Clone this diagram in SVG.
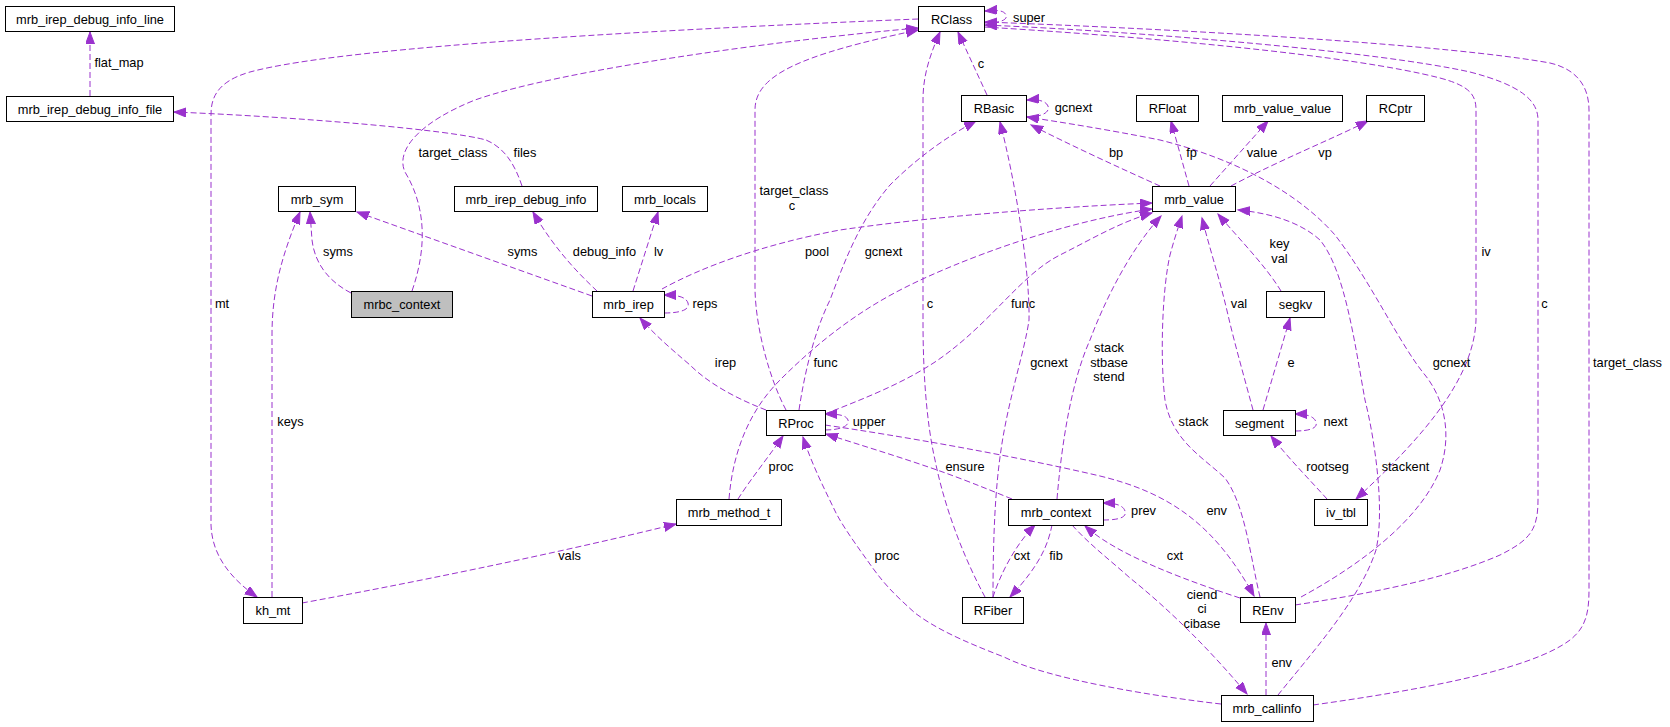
<svg xmlns="http://www.w3.org/2000/svg" width="1670" height="727" viewBox="0 0 1670 727">
<style>
.n rect{fill:#fff;stroke:#000;stroke-width:1}
.n text,.l text{font-family:"Liberation Sans",Arial,sans-serif;font-size:12.8px;fill:#000}
.n text{text-anchor:middle}
.l text{text-anchor:middle}
.e path{fill:none;stroke:#9a32cd;stroke-width:1;stroke-dasharray:6,3;marker-end:url(#ah)}
</style>
<defs>
<marker id="ah" markerUnits="userSpaceOnUse" markerWidth="14" markerHeight="11" refX="12" refY="4.5" orient="auto"><path d="M0,0 L12,4.5 L0,9 z" fill="#9a32cd" stroke="#9a32cd" stroke-width="1"/></marker>
</defs>
<rect width="1670" height="727" fill="#fff"/>
<g id="edges" class="e">
<path d="M90,96 L90,32"/>
<path d="M522,186 C515,165 505,148 486,140 C450,130 300,117 174,112"/>
<path d="M412,291 C428,245 425,205 405,172 C395,150 420,122 475,100 C560,70 780,40 918,28"/>
<path d="M918,19 C700,28 350,45 250,72 C215,82 211,100 211,115 L211,525 C212,555 230,578 257,597"/>
<path d="M351,293 C330,282 315,265 312,240 L310,212"/>
<path d="M272,597 L272,335 C272,290 282,255 300,212"/>
<path d="M592,296 L357,212"/>
<path d="M597,291 C580,275 555,250 533,212"/>
<path d="M633,291 L658,212"/>
<path d="M664,313 C680,313 690,310 688,303 C686,297 678,295 664,295"/>
<path d="M662,289 C700,268 760,245 840,230 C950,214 1080,206 1152,203"/>
<path d="M786,410 C770,380 756,330 755,290 L755,110 C755,75 800,55 918,30"/>
<path d="M799,410 C805,370 815,330 830,300 C845,260 860,220 890,185 C920,155 950,135 976,121"/>
<path d="M825,414 C860,400 900,385 935,362 C990,325 1020,275 1060,255 C1090,240 1120,222 1152,213"/>
<path d="M729,499 C733,450 750,410 780,380 C820,340 860,310 906,287 C960,260 1060,222 1152,209"/>
<path d="M825,430 C840,430 850,426 848,420 C846,415 838,414 825,414"/>
<path d="M825,425 C900,436 1010,455 1100,476 C1170,493 1215,525 1254,596"/>
<path d="M1012,499 C985,488 960,478 937,470 C900,457 860,445 826,434"/>
<path d="M738,499 C750,480 770,455 783,436"/>
<path d="M1103,520 C1120,520 1127,517 1125,511 C1123,505 1115,503 1103,503"/>
<path d="M1057,499 C1062,440 1072,380 1090,340 C1105,300 1130,250 1161,216"/>
<path d="M1260,597 C1250,555 1245,505 1225,478 C1200,455 1172,440 1165,400 C1160,360 1162,290 1170,255 C1174,240 1178,228 1182,216"/>
<path d="M1253,410 C1245,380 1235,345 1228,315 C1220,280 1210,250 1202,218"/>
<path d="M1263,410 L1290,318"/>
<path d="M1281,291 C1265,265 1240,240 1218,214"/>
<path d="M1295,431 C1310,431 1318,428 1316,422 C1314,416 1306,414 1295,414"/>
<path d="M1327,499 C1310,480 1290,460 1271,436"/>
<path d="M984,27 C1150,37 1350,55 1440,78 C1470,86 1476,95 1476,110 L1476,320 C1474,380 1420,440 1356,499"/>
<path d="M1295,605 C1380,592 1450,577 1500,555 C1530,540 1538,530 1538,500 L1538,120 C1538,100 1520,85 1470,72 C1380,52 1150,32 985,25"/>
<path d="M1313,705 C1420,690 1530,670 1570,640 C1585,628 1589,615 1589,590 L1589,110 C1589,90 1580,70 1550,63 C1450,45 1200,30 985,22"/>
<path d="M984,23 C1000,23 1008,20 1006,15 C1004,10 996,10 985,11"/>
<path d="M987,95 L958,32"/>
<path d="M985,597 C965,560 945,510 935,460 C926,420 923,370 923,320 L923,100 C923,75 930,55 940,32"/>
<path d="M993,597 C993,540 995,490 1001,450 C1008,400 1025,350 1029,320 C1030,270 1015,180 1000,122"/>
<path d="M993,597 C1000,575 1015,545 1035,525"/>
<path d="M1052,525 C1048,545 1040,565 1010,597"/>
<path d="M1026,117 C1043,117 1050,112 1048,106 C1046,101 1038,99 1027,100"/>
<path d="M1160,186 C1120,168 1070,145 1031,125"/>
<path d="M1301,597 C1360,565 1420,520 1440,470 C1452,435 1445,400 1425,375 C1400,345 1370,280 1335,235 C1300,195 1240,160 1160,140 C1110,130 1060,122 1027,117"/>
<path d="M1189,186 L1171,121"/>
<path d="M1210,186 L1268,121"/>
<path d="M1231,186 C1280,160 1330,140 1368,121"/>
<path d="M1278,695 C1310,655 1360,600 1376,550 C1385,510 1375,440 1365,400 C1355,345 1345,270 1320,240 C1300,222 1270,213 1238,210"/>
<path d="M1266,695 L1266,623"/>
<path d="M1221,704 C1160,697 1050,680 1004,657 C960,640 935,628 915,613 C895,595 885,585 872,567 C860,550 845,530 836,513 C825,490 812,465 803,437"/>
<path d="M1072,525 C1090,545 1110,560 1130,578 C1170,610 1210,650 1247,694"/>
<path d="M1240,598 C1200,585 1160,570 1130,555 C1110,545 1095,535 1085,526"/>
<path d="M302,603 C400,585 550,555 676,524"/>
<path d="M766,410 C740,400 710,385 690,365 C670,348 655,335 640,318"/>
</g>
<g id="labels" class="l">
<text x="119" y="67">flat_map</text>
<text x="525" y="156.5">files</text>
<text x="453" y="157">target_class</text>
<text x="338" y="255.5">syms</text>
<text x="222" y="307.5">mt</text>
<text x="290.5" y="426">keys</text>
<text x="522.5" y="255.5">syms</text>
<text x="604.5" y="255.5">debug_info</text>
<text x="658.5" y="255.5">lv</text>
<text x="705" y="307.5">reps</text>
<text x="817" y="255.5">pool</text>
<text x="794" y="195">target_class</text>
<text x="792" y="209.5">c</text>
<text x="883.5" y="255.5">gcnext</text>
<text x="930" y="307.5">c</text>
<text x="1023" y="307.5">func</text>
<text x="981" y="67.5">c</text>
<text x="1029" y="22">super</text>
<text x="1073.5" y="111.5">gcnext</text>
<text x="1116" y="156.5">bp</text>
<text x="1191.5" y="156.5">fp</text>
<text x="1262" y="156.5">value</text>
<text x="1325" y="156.5">vp</text>
<text x="1486" y="255.5">iv</text>
<text x="1544.5" y="307.5">c</text>
<text x="1279.5" y="248">key</text>
<text x="1279.5" y="263">val</text>
<text x="1239" y="307.5">val</text>
<text x="725.5" y="367">irep</text>
<text x="825.5" y="367">func</text>
<text x="1049" y="367">gcnext</text>
<text x="1109" y="352">stack</text>
<text x="1109" y="367">stbase</text>
<text x="1109" y="381">stend</text>
<text x="1193.5" y="426">stack</text>
<text x="1291" y="367">e</text>
<text x="1335.5" y="426">next</text>
<text x="869" y="426">upper</text>
<text x="781" y="471">proc</text>
<text x="965" y="471">ensure</text>
<text x="1327.5" y="471">rootseg</text>
<text x="1405.5" y="471">stackent</text>
<text x="1451.5" y="367">gcnext</text>
<text x="1627.5" y="367">target_class</text>
<text x="1143.5" y="515">prev</text>
<text x="1216.7" y="515">env</text>
<text x="569.6" y="560">vals</text>
<text x="887" y="560">proc</text>
<text x="1022" y="560">cxt</text>
<text x="1056" y="560">fib</text>
<text x="1175" y="560">cxt</text>
<text x="1202" y="598.5">ciend</text>
<text x="1202" y="613">ci</text>
<text x="1202" y="627.5">cibase</text>
<text x="1281.7" y="667">env</text>
</g>
<g id="n_mrb_irep_debug_info_line" class="n"><rect x="5.5" y="6.5" width="169" height="25"/><text x="90" y="23.5">mrb_irep_debug_info_line</text></g>
<g id="n_mrb_irep_debug_info_file" class="n"><rect x="6.5" y="96.5" width="167" height="25"/><text x="90" y="113.5">mrb_irep_debug_info_file</text></g>
<g id="n_mrb_sym" class="n"><rect x="278.5" y="186.5" width="77" height="25"/><text x="317" y="203.5">mrb_sym</text></g>
<g id="n_mrbc_context" class="n"><rect x="351.5" y="291.5" width="101" height="26" style="fill:#bfbfbf"/><text x="402" y="308.5">mrbc_context</text></g>
<g id="n_mrb_irep_debug_info" class="n"><rect x="454.5" y="186.5" width="143" height="25"/><text x="526" y="203.5">mrb_irep_debug_info</text></g>
<g id="n_mrb_locals" class="n"><rect x="622.5" y="186.5" width="85" height="25"/><text x="665" y="203.5">mrb_locals</text></g>
<g id="n_mrb_irep" class="n"><rect x="592.5" y="291.5" width="72" height="26"/><text x="628.5" y="308.5">mrb_irep</text></g>
<g id="n_RClass" class="n"><rect x="918.5" y="6.5" width="66" height="25"/><text x="951.5" y="23.5">RClass</text></g>
<g id="n_RBasic" class="n"><rect x="961.5" y="95.5" width="65" height="26"/><text x="994" y="112.5">RBasic</text></g>
<g id="n_RFloat" class="n"><rect x="1136.5" y="95.5" width="62" height="26"/><text x="1167.5" y="112.5">RFloat</text></g>
<g id="n_mrb_value_value" class="n"><rect x="1222.5" y="95.5" width="120" height="26"/><text x="1282.5" y="112.5">mrb_value_value</text></g>
<g id="n_RCptr" class="n"><rect x="1366.5" y="95.5" width="58" height="26"/><text x="1395.5" y="112.5">RCptr</text></g>
<g id="n_mrb_value" class="n"><rect x="1152.5" y="186.5" width="83" height="25"/><text x="1194" y="203.5">mrb_value</text></g>
<g id="n_segkv" class="n"><rect x="1266.5" y="291.5" width="58" height="26"/><text x="1295.5" y="308.5">segkv</text></g>
<g id="n_RProc" class="n"><rect x="766.5" y="410.5" width="59" height="25"/><text x="796" y="427.5">RProc</text></g>
<g id="n_segment" class="n"><rect x="1223.5" y="410.5" width="72" height="25"/><text x="1259.5" y="427.5">segment</text></g>
<g id="n_mrb_method_t" class="n"><rect x="676.5" y="499.5" width="105" height="26"/><text x="729" y="516.5">mrb_method_t</text></g>
<g id="n_mrb_context" class="n"><rect x="1008.5" y="499.5" width="95" height="26"/><text x="1056" y="516.5">mrb_context</text></g>
<g id="n_iv_tbl" class="n"><rect x="1314.5" y="499.5" width="53" height="26"/><text x="1341" y="516.5">iv_tbl</text></g>
<g id="n_kh_mt" class="n"><rect x="243.5" y="597.5" width="59" height="26"/><text x="273" y="614.5">kh_mt</text></g>
<g id="n_RFiber" class="n"><rect x="962.5" y="597.5" width="61" height="26"/><text x="993" y="614.5">RFiber</text></g>
<g id="n_REnv" class="n"><rect x="1240.5" y="597.5" width="55" height="25"/><text x="1268" y="614.5">REnv</text></g>
<g id="n_mrb_callinfo" class="n"><rect x="1221.5" y="695.5" width="92" height="26"/><text x="1267" y="712.5">mrb_callinfo</text></g>
</svg>
